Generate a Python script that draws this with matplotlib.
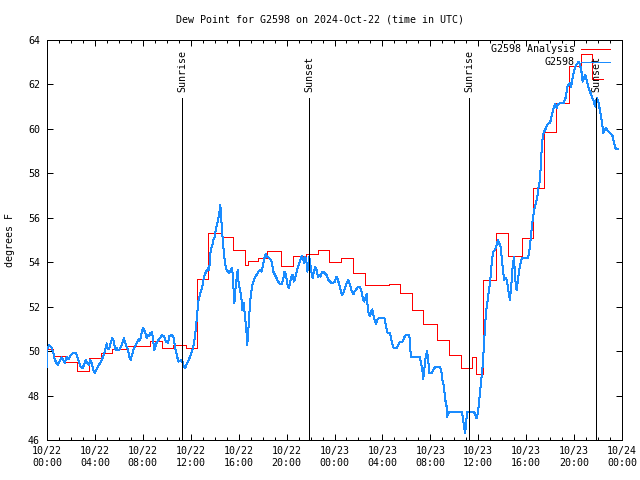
import datetime as dt
import matplotlib
matplotlib.use("Agg")
import matplotlib.pyplot as plt
import matplotlib.dates as mdates
import matplotlib.transforms as mtransforms

# ---------------- data ----------------
start = dt.datetime(2024, 10, 22, 0, 0)
title = "Dew Point for G2598 on 2024-Oct-22 (time in UTC)"
ylabel = "degrees F"
series_names = ["G2598 Analysis", "G2598"]

# analysis (step starts, hours after start) and dew point levels (F)
red_hours = [0.0, 0.53, 1.48, 2.53, 3.51, 4.51, 5.43, 6.65, 8.6, 9.6,
             10.52, 11.6, 12.5, 13.44, 14.58, 15.5, 16.53, 16.8, 17.64, 18.34,
             19.53, 20.56, 21.62, 22.65, 23.54, 24.52, 25.52, 26.54, 28.55, 29.47,
             30.47, 31.39, 32.53, 33.56, 34.56, 35.48, 35.8, 36.4, 37.48, 38.46,
             39.62, 40.57, 41.49, 42.49, 43.57, 44.57, 45.53, 46.41]
red_dewpt = [50.1, 49.77, 49.5, 49.1, 49.7, 49.9, 50.08, 50.23, 50.47, 50.13,
             50.27, 50.13, 53.23, 55.33, 55.12, 54.55, 53.87, 54.05, 54.17, 54.5,
             53.84, 54.29, 54.37, 54.55, 54.0, 54.17, 53.5, 52.97, 53.0, 52.6,
             51.85, 51.22, 50.5, 49.83, 49.22, 49.75, 48.97, 53.2, 55.3, 54.28,
             55.08, 57.33, 59.85, 61.18, 62.83, 63.35, 62.23, 62.23]

# observations (hours after start) and dew point (F)
blue_hours = [
    0.0, 0.02, 0.17, 0.36, 0.5, 0.64, 0.81, 0.92, 1.09, 1.22,
    1.36, 1.48, 1.56, 1.64, 1.75, 1.86, 1.98, 2.14, 2.25, 2.42,
    2.53, 2.67, 2.81, 2.95, 3.09, 3.23, 3.37, 3.51, 3.59, 3.73,
    3.87, 3.98, 4.12, 4.26, 4.42, 4.62, 4.76, 4.9, 4.98, 5.09,
    5.2, 5.31, 5.43, 5.54, 5.65, 5.73, 5.82, 5.93, 6.07, 6.21,
    6.32, 6.43, 6.54, 6.65, 6.76, 6.87, 6.98, 7.1, 7.21, 7.32,
    7.49, 7.62, 7.71, 7.82, 7.93, 8.04, 8.1, 8.21, 8.32, 8.43,
    8.54, 8.65, 8.71, 8.76, 8.85, 8.96, 9.15, 9.43, 9.6, 9.77,
    9.93, 10.1, 10.21, 10.38, 10.55, 10.68, 10.82, 10.96, 11.1, 11.27,
    11.41, 11.52, 11.66, 11.83, 12.0, 12.16, 12.27, 12.38, 12.49, 12.63,
    12.72, 12.83, 12.97, 13.05, 13.16, 13.27, 13.39, 13.5, 13.55, 13.6,
    13.69, 13.78, 13.89, 14.0, 14.11, 14.22, 14.33, 14.42, 14.47, 14.53,
    14.61, 14.69, 14.78, 14.89, 15.0, 15.11, 15.22, 15.33, 15.42, 15.5,
    15.56, 15.64, 15.72, 15.83, 15.92, 16.0, 16.11, 16.22, 16.31, 16.42,
    16.53, 16.64, 16.72, 16.81, 16.89, 17.0, 17.11, 17.23, 17.36, 17.5,
    17.67, 17.78, 17.91, 18.0, 18.11, 18.25, 18.39, 18.53, 18.67, 18.78,
    18.89, 19.03, 19.17, 19.3, 19.44, 19.61, 19.72, 19.83, 19.94, 20.06,
    20.17, 20.28, 20.39, 20.5, 20.61, 20.72, 20.84, 20.95, 21.06, 21.17,
    21.28, 21.39, 21.48, 21.56, 21.67, 21.73, 21.81, 21.89, 21.98, 22.06,
    22.17, 22.28, 22.39, 22.5, 22.62, 22.73, 22.84, 22.95, 23.06, 23.2,
    23.34, 23.48, 23.62, 23.76, 23.9, 24.04, 24.17, 24.29, 24.4, 24.51,
    24.62, 24.73, 24.87, 25.01, 25.15, 25.29, 25.43, 25.57, 25.7, 25.84,
    25.95, 26.12, 26.26, 26.4, 26.49, 26.6, 26.68, 26.74, 26.85, 26.96,
    27.07, 27.15, 27.24, 27.35, 27.46, 27.57, 27.68, 27.85, 28.07, 28.18,
    28.3, 28.41, 28.63, 28.74, 28.85, 28.96, 29.19, 29.32, 29.46, 29.69,
    29.88, 30.02, 30.24, 30.3, 30.38, 30.63, 30.86, 31.13, 31.22, 31.33,
    31.41, 31.5, 31.61, 31.72, 31.8, 31.91, 32.11, 32.25, 32.39, 32.58,
    32.8, 32.91, 33.0, 33.08, 33.16, 33.25, 33.36, 33.41, 33.5, 33.64,
    33.92, 34.19, 34.61, 34.7, 34.8, 34.89, 34.97, 35.03, 35.11, 35.25,
    35.59, 35.72, 35.86, 35.97, 36.06, 36.14, 36.25, 36.36, 36.47, 36.56,
    36.64, 36.75, 36.86, 36.97, 37.06, 37.14, 37.25, 37.39, 37.53, 37.64,
    37.75, 37.86, 37.98, 38.09, 38.17, 38.28, 38.4, 38.5, 38.64, 38.75,
    38.87, 38.98, 39.09, 39.2, 39.31, 39.42, 39.53, 39.65, 39.84, 40.04,
    40.17, 40.31, 40.42, 40.51, 40.59, 40.67, 40.81, 40.93, 41.04, 41.15,
    41.23, 41.31, 41.4, 41.51, 41.65, 41.76, 41.87, 41.98, 42.09, 42.21,
    42.32, 42.43, 42.54, 42.65, 42.82, 42.98, 43.15, 43.32, 43.43, 43.54,
    43.65, 43.74, 43.85, 43.96, 44.07, 44.18, 44.29, 44.4, 44.49, 44.6,
    44.71, 44.82, 44.93, 45.04, 45.15, 45.27, 45.38, 45.49, 45.6, 45.71,
    45.79, 45.88, 45.99, 46.1, 46.21, 46.32, 46.44, 46.55, 46.66, 46.77,
    46.88, 47.05, 47.21, 47.32, 47.44, 47.66]
blue_dewpt = [
    49.27, 50.08, 50.28, 50.17, 49.98, 49.63, 49.45, 49.38, 49.6, 49.72,
    49.6, 49.45, 49.6, 49.75, 49.63, 49.67, 49.83, 49.9, 49.93, 49.93,
    49.75, 49.53, 49.3, 49.22, 49.38, 49.6, 49.45, 49.38, 49.6, 49.45,
    49.15, 49.0, 49.15, 49.3, 49.45, 49.67, 49.87, 50.13, 50.35, 50.08,
    50.13, 50.35, 50.58, 50.5, 50.2, 50.05, 50.13, 50.05, 50.08, 50.23,
    50.43, 50.58, 50.35, 50.2, 50.05, 49.75, 49.6, 49.83, 50.05, 50.2,
    50.35, 50.53, 50.47, 50.58, 50.95, 51.03, 50.95, 50.83, 50.58, 50.73,
    50.68, 50.83, 50.73, 50.88, 50.5, 50.05, 50.38, 50.58, 50.73, 50.65,
    50.43, 50.38, 50.68, 50.73, 50.65, 50.2, 49.87, 49.53, 49.57, 49.6,
    49.3, 49.23, 49.41, 49.6, 49.83, 50.08, 50.35, 50.8, 51.4, 52.22,
    52.45, 52.67, 52.9, 53.2, 53.42, 53.57, 53.65, 53.8, 53.65, 54.25,
    54.63, 54.7, 55.0, 55.15, 55.53, 55.75, 56.05, 56.35, 56.58, 56.05,
    55.45, 54.85, 54.33, 53.88, 53.65, 53.58, 53.5, 53.65, 53.73, 53.5,
    52.9, 52.15, 52.75, 53.28, 53.65, 53.05, 52.75, 52.45, 51.85, 52.15,
    51.55, 50.95, 50.28, 50.95, 51.7, 52.45, 52.9, 53.13, 53.32, 53.43,
    53.58, 53.65, 53.58, 53.8, 54.1, 54.37, 54.25, 54.18, 54.13, 53.95,
    53.58, 53.43, 53.28, 53.13, 53.02, 53.02, 53.23, 53.58, 53.43, 53.05,
    52.83, 53.05, 53.35, 53.43, 53.13, 53.28, 53.58, 53.77, 53.95, 54.13,
    54.28, 54.1, 53.95, 54.25, 53.95, 53.58, 53.73, 54.25, 53.95, 53.58,
    53.28, 53.58, 53.8, 53.65, 53.35, 53.43, 53.35, 53.58, 53.58, 53.5,
    53.43, 53.2, 53.13, 53.05, 53.08, 53.13, 53.35, 53.2, 52.98, 52.75,
    52.53, 52.6, 52.83, 53.05, 53.2, 52.98, 52.7, 52.55, 52.7, 52.8,
    52.87, 52.87, 52.68, 52.3, 52.23, 52.45, 52.57, 52.15, 51.7, 51.58,
    51.78, 51.88, 51.63, 51.4, 51.22, 51.4, 51.48, 51.48, 51.48, 51.48,
    51.1, 50.83, 50.8, 50.53, 50.28, 50.13, 50.13, 50.28, 50.43, 50.43,
    50.68, 50.73, 50.73, 50.35, 49.72, 49.72, 49.72, 49.72, 49.45, 49.15,
    48.73, 49.22, 49.75, 50.0, 49.75, 49.0, 49.0, 49.15, 49.27, 49.3,
    49.27, 49.15, 48.7, 48.55, 48.25, 47.8, 47.5, 47.05, 47.2, 47.28,
    47.28, 47.28, 47.28, 47.05, 46.68, 46.3, 46.6, 47.05, 47.28, 47.28,
    47.28, 47.2, 46.98, 47.2, 47.7, 48.1, 48.7, 49.3, 50.2, 51.1,
    51.7, 52.15, 52.6, 53.05, 53.5, 54.1, 54.48, 54.55, 54.78, 55.0,
    54.85, 54.7, 54.1, 53.5, 53.2, 53.28, 53.2, 52.75, 52.3, 52.9,
    53.8, 54.25, 53.2, 52.75, 53.2, 53.65, 53.95, 54.18, 54.2, 54.2,
    54.2, 54.7, 55.3, 55.75, 56.05, 56.35, 56.65, 56.95, 57.4, 57.7,
    58.45, 59.2, 59.73, 59.88, 60.03, 60.18, 60.25, 60.25, 60.48, 60.78,
    61.0, 61.12, 60.93, 61.12, 61.15, 61.15, 61.18, 61.45, 61.9, 61.98,
    62.05, 61.9, 62.2, 62.5, 62.73, 62.88, 62.95, 63.03, 62.88, 62.65,
    62.13, 62.28, 62.43, 62.2, 61.98, 61.75, 61.6, 61.45, 61.3, 61.08,
    61.0, 61.38, 61.3, 61.0, 60.7, 60.33, 59.8, 59.95, 60.03, 59.95,
    59.88, 59.8, 59.68, 59.43, 59.13, 59.08]

sun_hours = [11.29, 21.9, 35.25, 45.87]
sun_labels = ["Sunrise", "Sunset", "Sunrise", "Sunset"]

y_ticks = [46, 48, 50, 52, 54, 56, 58, 60, 62, 64]

# ---------------- plot ----------------
FONT = "DejaVu Sans Mono"
FS = 7.2
LW = 0.72  # one pixel at 100 dpi
plt.rcParams["font.family"] = FONT

def to_time(hours):
    return [start + dt.timedelta(hours=h) for h in hours]

fig = plt.figure(figsize=(6.4, 4.8), dpi=100)
ax = fig.add_axes([47 / 640, 40 / 480, 575 / 640, 400 / 480])

blue_col = "#1a8cff"
red_col = "#ff0000"

ax.plot(to_time(red_hours), red_dewpt, color=red_col, lw=LW,
        drawstyle="steps-post", antialiased=False, zorder=3)
ax.plot(to_time(blue_hours), blue_dewpt, color=blue_col, lw=LW,
        antialiased=False, zorder=4)

trans = mtransforms.blended_transform_factory(ax.transData, ax.transAxes)
for h, lab in zip(sun_hours, sun_labels):
    t = mdates.date2num(start + dt.timedelta(hours=h))
    ax.plot([t, t], [0, 0.855], transform=trans, color="black", lw=LW,
            antialiased=False, zorder=5)
    ax.text(t, 0.87, lab, transform=trans, rotation=90, ha="center",
            va="bottom", fontsize=FS, color="black", zorder=6)

ax.set_xlim(start, start + dt.timedelta(hours=48))
ax.set_ylim(46, 64)
ax.set_yticks(y_ticks)
ax.set_yticklabels([str(v) for v in y_ticks])

ax.xaxis.set_major_locator(mdates.HourLocator(byhour=range(0, 24, 4)))
ax.xaxis.set_minor_locator(mdates.HourLocator())
ax.xaxis.set_major_formatter(mdates.DateFormatter("%m/%d\n%H:%M"))

ax.tick_params(axis="both", which="major", direction="in", length=4.5,
               width=LW, labelsize=FS, top=True, right=True, colors="black")
ax.tick_params(axis="x", which="minor", direction="in", length=2.2,
               width=LW, top=True)
ax.tick_params(axis="x", which="major", pad=4)
ax.tick_params(axis="y", which="major", pad=5)
for lab in ax.get_xticklabels():
    lab.set_linespacing(1.35)
for s in ax.spines.values():
    s.set_linewidth(LW)
    s.set_color("black")
    s.set_antialiased(False)

fig.text(0.5, 1 - 20 / 480, title, ha="center", va="center", fontsize=FS)
fig.text(10 / 640, 0.5, ylabel, rotation=90, ha="center", va="center",
         fontsize=FS)

# legend (gnuplot style: right-aligned text, sample line on the right)
leg_y = [0.9775, 0.945]
for name, col, yy in zip(series_names, [red_col, blue_col], leg_y):
    ax.text(0.918, yy, name, transform=ax.transAxes, ha="right", va="center",
            fontsize=FS, zorder=7)
    ax.plot([0.928, 0.979], [yy, yy], transform=ax.transAxes, color=col,
            lw=LW, antialiased=False, zorder=7)

fig.savefig("out.png", dpi=100)
